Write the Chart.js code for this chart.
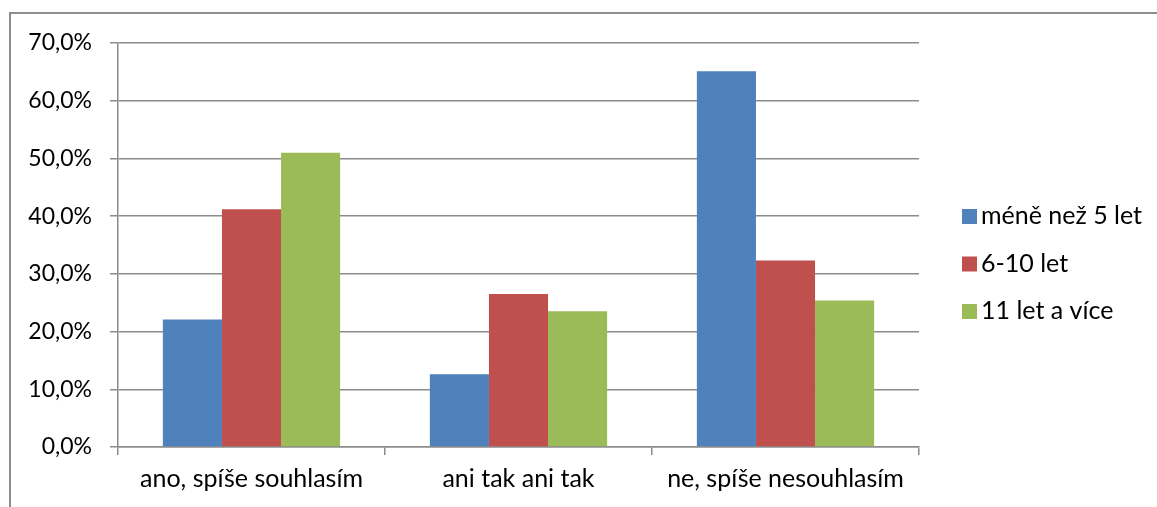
<!DOCTYPE html>
<html>
<head>
<meta charset="utf-8">
<script src="https://cdn.jsdelivr.net/npm/chart.js@4/dist/chart.umd.min.js"></script>
<style>
    html, body { margin: 0; padding: 0; background: #fff; overflow: hidden; }
    #wrap { position: relative; width: 1157px; height: 507px; }
    #frame { position: absolute; left: 9px; top: 12px; width: 1300px; height: 700px; border: 2px solid #8e8e8e; box-sizing: border-box; }
    canvas { position: absolute; left: 0; top: 0; }
</style>
</head>
<body>
<div id="wrap">
    <div id="frame"></div>
    <canvas id="myChart" width="1157" height="507"></canvas>
</div>
<script>
// Kategorie a hodnoty (v %)
const kategorie = ['ano, spíše souhlasím', 'ani tak ani tak', 'ne, spíše nesouhlasím'];
const serie = ['méně než 5 let', '6-10 let', '11 let a více'];
const mene5 = [22.1, 12.6, 65.1];
const od6do10 = [41.2, 26.5, 32.3];
const nad11 = [51.0, 23.5, 25.4];
const barvy = ['#4F81BD', '#C0504D', '#9BBB59'];

const pismo = "Lato, 'Open Sans', sans-serif";
const sedaMrizka = '#8c8c8c';

// Vlastní legenda vpravo (čtverečky + text)
const legendaVpravo = {
    id: 'legendaVpravo',
    afterDraw(chart) {
        const ctx = chart.ctx;
        ctx.save();
        ctx.font = '25px ' + pismo;
        ctx.textBaseline = 'middle';
        ctx.textAlign = 'left';
        chart.data.datasets.forEach((ds, i) => {
            const y = 216 + i * 47.5;
            ctx.fillStyle = ds.backgroundColor;
            ctx.fillRect(962, y - 7, 15, 15);
            ctx.fillStyle = '#000';
            ctx.fillText(ds.label, 981, y);
        });
        ctx.restore();
    }
};

const ctx = document.getElementById('myChart').getContext('2d');
const myChart = new Chart(ctx, {
    type: 'bar',
    data: {
        labels: kategorie,
        datasets: [
            { label: serie[0], data: mene5, backgroundColor: barvy[0] },
            { label: serie[1], data: od6do10, backgroundColor: barvy[1] },
            { label: serie[2], data: nad11, backgroundColor: barvy[2] }
        ]
    },
    options: {
        responsive: false,
        animation: false,
        layout: { padding: { left: 0, top: 43, right: 238, bottom: 0 } },
        datasets: {
            bar: { barPercentage: 1.0, categoryPercentage: 0.664 }
        },
        plugins: {
            legend: { display: false },
            tooltip: { enabled: false }
        },
        scales: {
            x: {
                grid: {
                    offset: true,
                    drawOnChartArea: false,
                    drawTicks: true,
                    tickLength: 8,
                    color: sedaMrizka,
                    lineWidth: 1.5
                },
                border: { color: sedaMrizka, width: 1.5 },
                ticks: {
                    color: '#000',
                    font: { family: pismo, size: 25 },
                    padding: 9,
                    maxRotation: 0
                },
                afterFit(scale) { scale.height = 60; }
            },
            y: {
                min: 0,
                max: 70,
                grid: {
                    color: sedaMrizka,
                    lineWidth: 1.5,
                    tickLength: 8
                },
                border: { color: sedaMrizka, width: 1.5 },
                ticks: {
                    stepSize: 10,
                    color: '#000',
                    font: { family: pismo, size: 23 },
                    padding: 18,
                    callback: v => v.toFixed(1).replace('.', ',') + '%'
                },
                afterFit(scale) { scale.width = 118; }
            }
        }
    },
    plugins: [legendaVpravo]
});
</script>
</body>
</html>
